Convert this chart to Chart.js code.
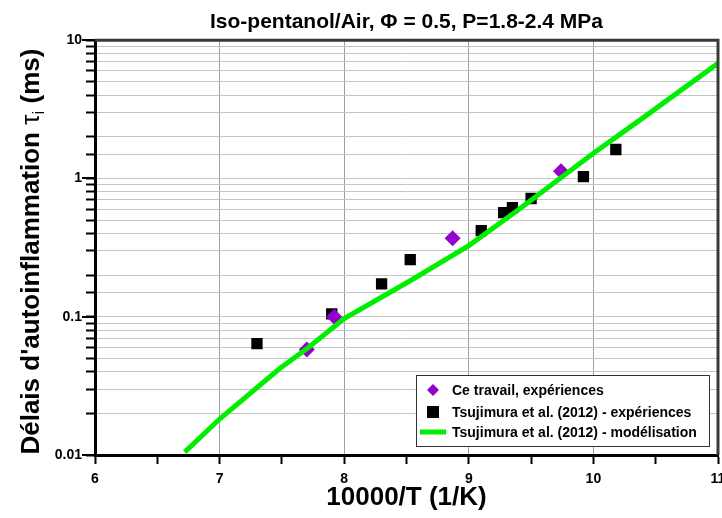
<!DOCTYPE html>
<html lang="fr">
<head>
<meta charset="UTF-8">
<title>Iso-pentanol/Air</title>
<script src="https://cdn.jsdelivr.net/npm/chart.js"></script>
<style>
  html, body { margin: 0; padding: 0; background: #fff; }
  #wrap { width: 722px; height: 518px; }
</style>
</head>
<body>
<div id="wrap"><canvas id="chart" width="722" height="518"></canvas></div>
<script>
// axis ticks
const xTickLabels = [6, 7, 8, 9, 10, 11];
const yTickLabels = [0.01, 0.1, 1, 10];

// Ce travail, expériences
const ceTravailX = [7.70, 7.92, 8.87, 9.74];
const ceTravailY = [0.058, 0.100, 0.37, 1.13];

// Tsujimura et al. (2012) - expériences
const tsujiExpX = [7.30, 7.90, 8.30, 8.53, 9.10, 9.28, 9.35, 9.50, 9.92, 10.18];
const tsujiExpY = [0.064, 0.105, 0.173, 0.259, 0.42, 0.567, 0.616, 0.716, 1.03, 1.62];

// Tsujimura et al. (2012) - modélisation
const tsujiModX = [6.72, 7.0, 7.48, 7.71, 8.0, 8.53, 9.0, 9.39, 10.0, 10.37, 11.0];
const tsujiModY = [0.0105, 0.0182, 0.042, 0.0596, 0.097, 0.182, 0.327, 0.586, 1.52, 2.63, 6.8];

const labels = [
  'Ce travail, expériences',
  'Tsujimura et al. (2012) - expériences',
  'Tsujimura et al. (2012) - modélisation'
];

const FONT = '"Liberation Sans", Arial, sans-serif';
const toPts = (xs, ys) => xs.map((x, i) => ({ x: x, y: ys[i] }));
const isDecade = v => Math.abs(Math.log10(v) - Math.round(Math.log10(v))) < 1e-6;

const framePlugin = {
  id: 'frame',
  afterDraw(chart) {
    const { ctx, chartArea: a, scales } = chart;
    ctx.save();
    // top / right frame
    ctx.strokeStyle = '#3a3a3a';
    ctx.lineWidth = 3;
    ctx.beginPath();
    ctx.moveTo(a.left, a.top);
    ctx.lineTo(a.right, a.top);
    ctx.lineTo(a.right, a.bottom);
    ctx.stroke();
    // longer ticks on decades
    ctx.strokeStyle = '#000';
    ctx.lineWidth = 2;
    yTickLabels.forEach(v => {
      const y = Math.round(scales.y.getPixelForValue(v));
      ctx.beginPath();
      ctx.moveTo(a.left - 13, y);
      ctx.lineTo(a.left, y);
      ctx.stroke();
    });

    // y title with subscript
    ctx.translate(32, (a.top + a.bottom) / 2 + 4);
    ctx.rotate(-Math.PI / 2);
    ctx.fillStyle = '#000';
    ctx.textBaseline = 'middle';
    const p1 = "Délais d'autoinflammation ";
    const p2 = 'τ';
    const p3 = 'i';
    const p4 = ' (ms)';
    ctx.font = 'bold 26px ' + FONT;
    const w1 = ctx.measureText(p1).width;
    const w4 = ctx.measureText(p4).width;
    ctx.font = '26px ' + FONT;
    const w2 = ctx.measureText(p2).width;
    ctx.font = '17px ' + FONT;
    const w3 = ctx.measureText(p3).width;
    let x = -(w1 + w2 + w3 + w4) / 2;
    ctx.font = 'bold 26px ' + FONT;
    ctx.fillText(p1, x, 0); x += w1;
    ctx.font = '26px ' + FONT;
    ctx.fillText(p2, x, 0); x += w2;
    ctx.font = '17px ' + FONT;
    ctx.fillText(p3, x, 7); x += w3;
    ctx.font = 'bold 26px ' + FONT;
    ctx.fillText(p4, x, 0);
    ctx.restore();

    // legend box
    const bw = 293, bh = 71;
    const bx = a.right - 9 - bw, by = a.bottom - 9 - bh;
    ctx.save();
    ctx.fillStyle = '#fff';
    ctx.fillRect(bx, by, bw, bh);
    ctx.strokeStyle = '#333';
    ctx.lineWidth = 1;
    ctx.strokeRect(bx + 0.5, by + 0.5, bw, bh);
    ctx.font = 'bold 14px ' + FONT;
    ctx.textBaseline = 'middle';
    const rows = [by + 15, by + 37, by + 57];
    const mx = bx + 17;
    // diamond
    ctx.fillStyle = '#9400cc';
    ctx.beginPath();
    ctx.moveTo(mx, rows[0] - 6); ctx.lineTo(mx + 6, rows[0]);
    ctx.lineTo(mx, rows[0] + 6); ctx.lineTo(mx - 6, rows[0]);
    ctx.closePath(); ctx.fill();
    // square
    ctx.fillStyle = '#000';
    ctx.fillRect(mx - 6, rows[1] - 6, 12, 12);
    // line
    ctx.strokeStyle = '#00ee00';
    ctx.lineWidth = 5;
    ctx.beginPath();
    ctx.moveTo(bx + 4, rows[2]); ctx.lineTo(bx + 30, rows[2]);
    ctx.stroke();
    ctx.fillStyle = '#000';
    labels.forEach((t, i) => ctx.fillText(t, bx + 36, rows[i] + 1));
    ctx.restore();
  }
};

new Chart(document.getElementById('chart'), {
  type: 'scatter',
  data: {
    datasets: [
      {
        label: labels[0],
        data: toPts(ceTravailX, ceTravailY),
        pointStyle: 'rectRot',
        pointRadius: 8,
        backgroundColor: '#9400cc',
        borderColor: '#9400cc',
        borderWidth: 0,
        order: 1
      },
      {
        label: labels[1],
        data: toPts(tsujiExpX, tsujiExpY),
        pointStyle: 'rect',
        pointRadius: 8,
        backgroundColor: '#000',
        borderColor: '#000',
        borderWidth: 0,
        order: 2
      },
      {
        label: labels[2],
        type: 'line',
        data: toPts(tsujiModX, tsujiModY),
        borderColor: '#00ee00',
        borderWidth: 5,
        pointRadius: 0,
        tension: 0,
        fill: false,
        order: 0
      }
    ]
  },
  options: {
    responsive: false,
    animation: false,
    layout: { autoPadding: false, padding: { left: 0, right: 4, top: 0, bottom: 0 } },
    plugins: {
      legend: { display: false },
      tooltip: { enabled: false },
      title: {
        display: true,
        fullSize: false,
        text: 'Iso-pentanol/Air, Φ = 0.5, P=1.8-2.4 MPa',
        color: '#000',
        font: { family: FONT, size: 21, weight: 'bold' },
        padding: { top: 10, bottom: 5 }
      }
    },
    scales: {
      x: {
        type: 'linear',
        min: 6,
        max: 11,
        afterFit: s => { s.height = 63; s.paddingLeft = 0; s.paddingRight = 0; },
        border: { display: true, color: '#000', width: 3 },
        grid: {
          color: c => (c.tick && Number.isInteger(c.tick.value)) ? '#a0a0a0' : 'rgba(0,0,0,0)',
          lineWidth: 1,
          drawTicks: true,
          tickLength: 9,
          tickColor: '#000',
          tickWidth: 2
        },
        ticks: {
          stepSize: 0.5,
          autoSkip: false,
          maxRotation: 0,
          padding: 7,
          color: '#000',
          font: { family: FONT, size: 14, weight: 'bold' },
          callback: v => xTickLabels.includes(v) ? String(v) : ''
        },
        title: {
          display: true,
          text: '10000/T (1/K)',
          color: '#000',
          font: { family: FONT, size: 26, weight: 'bold' },
          padding: { top: 0, bottom: 5 }
        }
      },
      y: {
        type: 'logarithmic',
        min: 0.01,
        max: 10,
        afterFit: s => { s.width = 95; s.paddingTop = 0; s.paddingBottom = 0; },
        border: { display: true, color: '#000', width: 3 },
        grid: {
          color: '#c4c4c4',
          lineWidth: 1,
          drawTicks: true,
          tickLength: 9,
          tickColor: '#000',
          tickWidth: 2
        },
        ticks: {
          autoSkip: false,
          padding: 4,
          color: '#000',
          font: { family: FONT, size: 14, weight: 'bold' },
          callback: v => isDecade(v) ? String(yTickLabels.find(t => Math.abs(t - v) / t < 1e-6)) : ''
        },
        title: { display: false }
      }
    }
  },
  plugins: [framePlugin]
});
</script>
</body>
</html>
